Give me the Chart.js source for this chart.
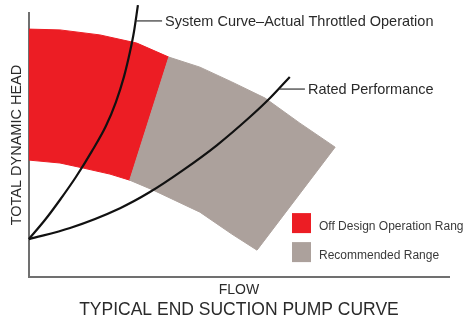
<!DOCTYPE html>
<html>
<head>
<meta charset="utf-8">
<script src="https://cdn.jsdelivr.net/npm/chart.js@4.4.0/dist/chart.umd.min.js"></script>
<style>
    html, body { margin: 0; padding: 0; background: #fff; }
</style>
</head>
<body>
<canvas id="curva" width="464" height="317"></canvas>
<script>
// pump envelope, flow and head given as % of the plotted range
var upperFlow = [0, 7.4, 16.9, 25.7, 33.3, 40.7, 48.3, 56.2, 64.5, 72.9];
var upperHead = [93.9, 93.6, 91.7, 88.6, 83.3, 79.5, 73.9, 67.8, 58.3, 49.2];
var lowerFlow = [0, 7.4, 12.9, 19.3, 24.0, 29.5, 40.7, 48.3, 54.3];
var lowerHead = [44.3, 43.2, 41.3, 39.0, 36.7, 33.0, 24.6, 16.3, 10.2];
// flow where the off design zone stops, on the upper and on the lower edge
var offDesignEnd = [33.3, 24.0];

var systemFlow = [0, 3.81, 7.38, 11.19, 15.0, 18.33, 20.71, 22.62, 24.05, 25.0, 25.95];
var systemHead = [14.4, 21.6, 29.2, 37.9, 47.7, 57.2, 66.3, 75.8, 85.2, 92.8, 103.0];
var ratedFlow = [0, 9.8, 21.7, 28.8, 36.7, 44.8, 52.6, 57.4, 62.1];
var ratedHead = [14.4, 18.6, 26.1, 32.2, 40.5, 50.0, 60.6, 67.8, 75.8];

var curveLabels = ['System Curve\u2013Actual Throttled Operation', 'Rated Performance'];
var rangeLabels = ['Off Design Operation Range', 'Recommended Range'];
var titulo = 'TYPICAL END SUCTION PUMP CURVE';

var FONT = "'Liberation Sans', Arial, sans-serif";
var ROJO = '#ec1d24';
var GRIS = '#aca19c';

function puntos(flujo, altura) {
    return flujo.map(function (f, i) { return { x: f, y: altura[i] }; });
}

var arriba = puntos(upperFlow, upperHead);
var abajo = puntos(lowerFlow, lowerHead);

var zonaRoja = arriba.filter(function (p) { return p.x <= offDesignEnd[0]; })
    .concat(abajo.filter(function (p) { return p.x <= offDesignEnd[1]; }).reverse());
zonaRoja.push(zonaRoja[0]);

var zonaGris = arriba.filter(function (p) { return p.x >= offDesignEnd[0]; })
    .concat(abajo.filter(function (p) { return p.x >= offDesignEnd[1]; }).reverse());
zonaGris.push(zonaGris[0]);

// leader lines, labels, the small legend and the title under the axis
var notas = {
    id: 'notas',
    afterDraw: function (chart) {
        var ctx = chart.ctx, x = chart.scales.x, y = chart.scales.y, ca = chart.chartArea;
        ctx.save();
        ctx.strokeStyle = '#333';
        ctx.lineWidth = 1.2;
        ctx.fillStyle = '#2a2a2a';
        ctx.font = '14.5px ' + FONT;
        ctx.textBaseline = 'middle';
        var guias = [[25.4, 31.7, 97], [59.6, 65.7, 71.2]];
        guias.forEach(function (g, i) {
            var yy = y.getPixelForValue(g[2]);
            ctx.beginPath();
            ctx.moveTo(x.getPixelForValue(g[0]), yy);
            ctx.lineTo(x.getPixelForValue(g[1]), yy);
            ctx.stroke();
            ctx.fillText(curveLabels[i], x.getPixelForValue(g[1]) + 3, yy + 1);
        });

        ctx.font = '12px ' + FONT;
        [ROJO, GRIS].forEach(function (c, i) {
            var sy = ca.bottom - 64 + i * 29;
            ctx.fillStyle = c;
            ctx.fillRect(ca.right - 157, sy, 19, 20);
            ctx.fillStyle = '#3a3a3a';
            ctx.fillText(rangeLabels[i], ca.right - 130, sy + 14);
        });

        ctx.fillStyle = '#2a2a2a';
        ctx.font = '17.5px ' + FONT;
        ctx.textAlign = 'center';
        ctx.fillText(titulo, (ca.left + ca.right) / 2, ca.bottom + 33);
        ctx.restore();
    }
};

var linea = function (datos) {
    return {
        data: datos, borderColor: '#111', borderWidth: 2.2, pointRadius: 0,
        fill: false, cubicInterpolationMode: 'monotone', clip: false
    };
};
var zona = function (datos, color) {
    return {
        data: datos, borderColor: color, backgroundColor: color, borderWidth: 1,
        pointRadius: 0, fill: 'shape', tension: 0
    };
};

var ctx = document.getElementById('curva').getContext('2d');
var grafica = new Chart(ctx, {
    type: 'line',
    data: {
        datasets: [
            linea(puntos(systemFlow, systemHead)),
            linea(puntos(ratedFlow, ratedHead)),
            zona(zonaGris, GRIS),
            zona(zonaRoja, ROJO)
        ]
    },
    options: {
        responsive: false,
        animation: false,
        devicePixelRatio: 1,
        layout: { padding: { left: 8, right: 15, top: 13, bottom: 18.6 } },
        scales: {
            x: {
                type: 'linear', min: 0, max: 100,
                grid: { display: false, drawTicks: false },
                ticks: { display: false },
                border: { display: true, color: '#707070', width: 2 },
                title: {
                    display: true, text: 'FLOW', color: '#2a2a2a',
                    font: { family: FONT, size: 14 }, padding: { top: 4.5, bottom: 0 }
                }
            },
            y: {
                type: 'linear', min: 0, max: 100,
                grid: { display: false, drawTicks: false },
                ticks: { display: false },
                border: { display: true, color: '#707070', width: 2 },
                title: {
                    display: true, text: 'TOTAL DYNAMIC HEAD', color: '#2a2a2a',
                    font: { family: FONT, size: 14.5 }, padding: { top: 0, bottom: 3.5 }
                }
            }
        },
        plugins: {
            legend: { display: false },
            tooltip: { enabled: false }
        }
    },
    plugins: [notas]
});
</script>
</body>
</html>
